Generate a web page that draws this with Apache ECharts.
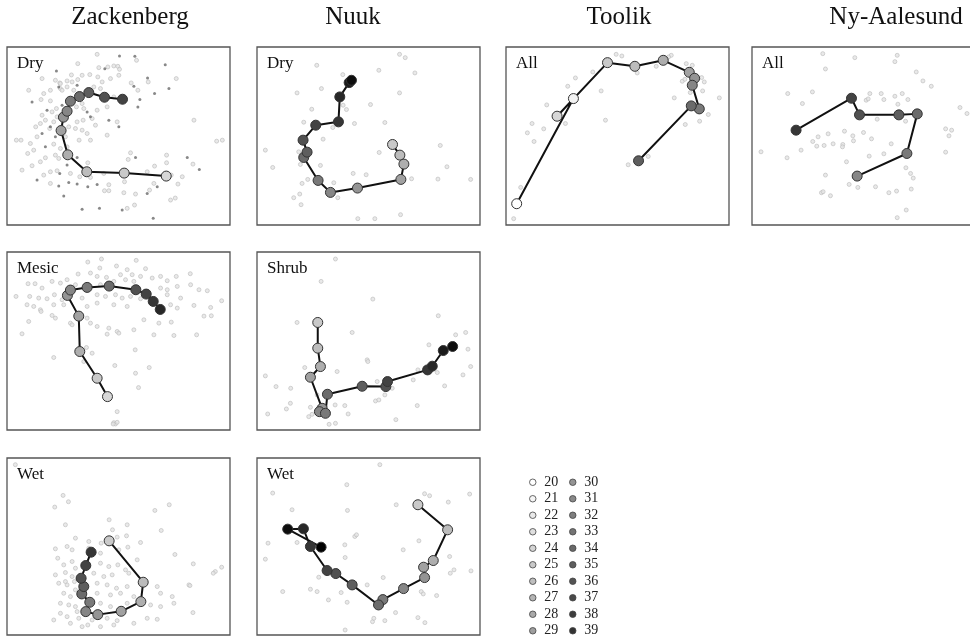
<!DOCTYPE html>
<html>
<head>
<meta charset="utf-8">
<script src="https://cdn.jsdelivr.net/npm/echarts@6/dist/echarts.min.js"></script>
<style>
  html, body { margin: 0; background: #fff; }
  #chart { width: 970px; height: 641px; }
</style>
</head>
<body>
<div id="chart"></div>
<script>
// ordination scores (arbitrary units), trajectory points are [x, y, week]
const sites = ['Zackenberg', 'Nuuk', 'Toolik', 'Ny-Aalesund'];
const weeks = [20, 21, 22, 23, 24, 25, 26, 27, 28, 29, 30, 31, 32, 33, 34, 35, 36, 37, 38, 39];

const zackDryPath = [[497,408,23],[371,399,24],[259,395,25],[202,344,26],[182,271,27],[189,231,28],[200,213,29],[210,183,30],[237,169,31],[265,157,32],[312,171,33],[366,177,34]];
const zackDryBg = [[290,42],[408,60],[232,70],[295,82],[322,80],[340,77],[352,78],[357,87],[213,104],[245,105],[268,103],[292,110],[355,105],[165,120],[178,128],[200,122],[215,125],[232,118],[305,125],[392,128],[443,125],[527,115],[85,150],[130,160],[150,150],[180,145],[185,150],[200,140],[220,150],[280,140],[300,145],[412,150],[122,178],[150,182],[168,205],[228,200],[250,205],[290,210],[245,190],[125,225],[155,215],[135,240],[106,260],[120,250],[160,245],[230,245],[248,240],[275,235],[350,245],[225,265],[245,270],[260,280],[320,285],[580,240],[48,300],[62,300],[90,310],[110,290],[160,312],[180,325],[236,300],[270,300],[648,303],[665,300],[82,340],[135,353],[165,345],[175,355],[262,368],[390,338],[383,358],[498,345],[577,372],[65,390],[95,377],[130,405],[170,392],[210,400],[238,410],[270,412],[310,400],[440,395],[462,378],[498,368],[545,410],[512,405],[150,430],[325,434],[372,425],[460,430],[532,432],[312,452],[325,452],[370,458],[405,462],[447,450],[380,505],[402,495],[510,480],[524,474],[148,265],[125,115],[180,130],[330,115],[240,160],[215,175],[170,230],[195,290],[205,260],[285,255],[320,200],[340,170],[100,330],[120,365],[200,320],[150,395]];
const zackDryBgDark = [[357,47],[403,48],[494,73],[168,92],[313,85],[441,113],[400,138],[462,160],[505,145],[95,185],[418,178],[412,200],[325,240],[355,260],[150,260],[135,320],[230,352],[200,375],[596,388],[560,352],[178,400],[230,432],[175,438],[190,468],[290,433],[245,508],[297,505],[365,510],[458,535],[440,460],[470,440],[205,427],[405,352],[175,140],[230,135],[260,215],[140,210],[125,280],[165,290],[270,230],[185,195],[110,420],[262,440]];

const nuukDryPath = [[426,313,24],[448,345,25],[460,372,26],[451,418,27],[321,444,28],[240,457,29],[203,421,30],[160,352,31],[170,336,32],[158,300,33],[196,255,34],[264,245,35],[268,170,36],[296,127,37],[303,120,38]];
const nuukDryBg = [[447,42],[464,52],[199,75],[385,90],[493,98],[277,103],[140,158],[213,145],[447,158],[360,193],[184,207],[288,208],[278,195],[160,246],[247,262],[312,250],[403,247],[218,297],[45,330],[145,335],[386,337],[569,316],[67,382],[150,373],[210,376],[589,380],[308,400],[347,404],[483,416],[562,417],[660,418],[172,418],[155,430],[250,428],[148,462],[130,473],[262,473],[152,494],[450,524],[322,536],[373,536]];

const toolikPath = [[52,491,20],[222,175,21],[173,228,23],[324,67,24],[406,78,25],[491,60,26],[569,96,27],[585,114,28],[578,135,29],[599,206,30],[575,197,31],[417,362,32]];
const toolikBg = [[350,42],[367,47],[515,45],[507,50],[560,70],[578,75],[280,95],[228,113],[205,138],[305,152],[413,98],[470,78],[548,123],[556,117],[606,112],[614,125],[609,152],[572,157],[524,173],[659,173],[626,223],[600,243],[557,253],[142,194],[98,250],[133,266],[198,250],[318,240],[84,278],[104,304],[446,349],[386,374],[64,442],[43,536]];

const nyPath = [[335,408,29],[484,340,30],[515,221,31],[460,224,32],[342,224,33],[318,174,34],[152,270,35]];
const nyBg = [[232,40],[328,52],[455,45],[448,64],[240,86],[512,95],[532,122],[557,138],[127,160],[201,155],[171,190],[373,160],[407,160],[362,180],[368,176],[415,178],[448,168],[470,160],[487,178],[457,192],[643,202],[664,220],[395,237],[480,243],[600,266],[618,270],[610,287],[600,336],[47,335],[125,353],[167,330],[218,290],[248,281],[202,304],[214,318],[236,316],[263,311],[292,313],[291,320],[297,273],[322,287],[324,302],[354,277],[378,296],[437,311],[415,341],[371,348],[303,365],[240,405],[311,433],[337,442],[390,440],[430,458],[453,453],[497,447],[481,383],[495,400],[503,414],[228,458],[233,455],[255,467],[482,510],[455,533]];

const zackMesicPath = [[321,455,23],[290,400,24],[238,320,26],[235,214,27],[201,152,28],[210,136,29],[260,128,30],[326,124,31],[406,135,33],[437,148,34],[458,170,35],[479,194,36]];
const zackMesicBg = [[303,43],[262,52],[407,47],[348,64],[298,70],[380,75],[435,72],[527,95],[569,87],[233,88],[270,85],[290,95],[318,98],[360,90],[395,90],[420,95],[455,100],[480,95],[500,108],[83,117],[104,117],[125,130],[155,110],[180,115],[200,105],[225,120],[300,120],[340,110],[375,105],[400,110],[480,130],[500,135],[530,125],[570,120],[595,135],[620,138],[47,155],[88,155],[115,160],[140,162],[162,150],[185,165],[245,160],[290,150],[315,155],[345,150],[365,160],[390,155],[420,162],[500,150],[540,160],[80,180],[100,185],[120,195],[160,180],[190,180],[260,185],[290,175],[340,180],[380,185],[510,180],[530,190],[580,182],[630,188],[663,168],[610,214],[632,213],[122,200],[155,212],[165,220],[210,235],[215,240],[260,220],[270,235],[290,245],[325,250],[350,260],[400,255],[430,225],[475,235],[512,232],[85,230],[65,267],[320,268],[355,265],[460,270],[520,272],[588,270],[258,308],[275,325],[404,315],[160,338],[250,350],[343,362],[405,385],[446,368],[414,428],[350,500],[340,533],[345,537],[350,532],[338,537]];

const nuukShrubPath = [[202,233,24],[202,310,25],[210,365,26],[180,397,27],[215,490,28],[207,500,29],[225,505,30],[231,448,31],[335,424,32],[406,425,33],[411,410,34],[531,375,35],[545,364,36],[578,317,37],[606,305,38]];
const nuukShrubBg = [[255,43],[212,110],[367,163],[140,233],[305,263],[563,213],[615,270],[645,263],[535,300],[652,313],[350,345],[352,350],[163,368],[260,380],[660,365],[637,390],[45,393],[77,425],[121,430],[380,410],[425,430],[403,450],[488,405],[502,375],[560,383],[582,423],[200,450],[120,475],[108,492],[180,487],[175,515],[185,508],[254,480],[283,482],[293,507],[375,468],[385,465],[500,482],[436,524],[236,538],[255,535],[52,507]];

const zackWetPath = [[326,273,24],[428,397,25],[421,455,26],[362,484,27],[292,494,28],[256,485,29],[268,457,30],[244,432,31],[250,410,32],[242,385,33],[256,347,34],[272,307,35]];
const zackWetBg = [[45,45],[188,137],[204,156],[163,172],[326,210],[463,182],[506,165],[482,242],[195,225],[380,225],[378,258],[336,240],[225,265],[265,275],[302,280],[382,292],[420,278],[350,262],[165,297],[200,290],[215,300],[265,295],[300,310],[355,300],[410,330],[523,314],[578,342],[644,365],[638,370],[663,352],[172,325],[190,345],[215,335],[225,355],[300,340],[325,350],[352,345],[375,360],[165,375],[195,368],[215,380],[280,370],[310,380],[335,375],[385,370],[175,400],[200,405],[222,395],[290,400],[320,405],[348,415],[380,410],[470,410],[565,405],[190,430],[210,440],[225,420],[290,430],[330,435],[360,430],[400,440],[480,430],[515,440],[180,460],[205,465],[225,470],[300,460],[330,470],[380,460],[450,465],[480,470],[520,460],[180,490],[200,500],[230,485],[275,510],[320,505],[350,512],[400,520],[440,505],[470,508],[160,510],[210,520],[245,530],[300,530],[340,525],[577,488],[568,407],[195,395],[235,505],[262,525]];

const nuukWetPath = [[502,165,24],[591,240,25],[548,332,26],[519,352,27],[522,383,28],[459,416,29],[397,449,30],[384,465,31],[305,405,32],[256,371,33],[230,362,34],[180,290,35],[159,237,36],[112,238,38],[212,292,39]];
const nuukWetBg = [[388,45],[289,105],[67,130],[522,132],[537,138],[657,133],[437,165],[593,157],[125,180],[291,182],[53,280],[140,278],[505,273],[313,260],[318,255],[283,285],[45,328],[284,323],[458,300],[597,320],[661,363],[610,360],[599,370],[398,383],[205,382],[350,405],[180,418],[200,425],[97,425],[272,428],[234,450],[290,457],[512,425],[518,432],[558,437],[435,488],[366,515],[370,505],[403,512],[502,503],[523,518],[284,540]];

// layout of the small multiples
const colLeft = [7, 257, 506, 752];
const colCenter = [130, 353, 619, 896];
const rowTop = [47, 252, 458];
const rowHeight = [178, 178, 177];
const rowYMin = [20, 22, 25];
const serif = '"Liberation Serif", "DejaVu Serif", serif';

const panels = [
  {label: 'Dry',   col: 0, row: 0, path: zackDryPath,   bg: zackDryBg, bgDark: zackDryBgDark},
  {label: 'Dry',   col: 1, row: 0, path: nuukDryPath,   bg: nuukDryBg},
  {label: 'All',   col: 2, row: 0, path: toolikPath,    bg: toolikBg},
  {label: 'All',   col: 3, row: 0, path: nyPath,        bg: nyBg},
  {label: 'Mesic', col: 0, row: 1, path: zackMesicPath, bg: zackMesicBg},
  {label: 'Shrub', col: 1, row: 1, path: nuukShrubPath, bg: nuukShrubBg},
  {label: 'Wet',   col: 0, row: 2, path: zackWetPath,   bg: zackWetBg},
  {label: 'Wet',   col: 1, row: 2, path: nuukWetPath,   bg: nuukWetBg}
];

function weekGray(w) {
  const v = Math.round(255 * (39 - w) / 19);
  return 'rgb(' + v + ',' + v + ',' + v + ')';
}

const grid = [], xAxis = [], yAxis = [], series = [];
const title = sites.map((s, i) => ({
  text: s, left: colCenter[i], top: 5, textAlign: 'center', padding: 0,
  textStyle: {fontFamily: serif, fontSize: 25, fontWeight: 'normal', color: '#111'}
}));

panels.forEach((p, i) => {
  // last column runs past the page edge, so no clamping of the grid box
  grid.push({
    left: colLeft[p.col], top: rowTop[p.row], width: 223, height: rowHeight[p.row],
    outerBoundsMode: 'none',
    show: true, borderColor: '#555', borderWidth: 1.3, backgroundColor: '#fff'
  });
  xAxis.push({type: 'value', gridIndex: i, min: 20, max: 688, show: false});
  yAxis.push({type: 'value', gridIndex: i, min: rowYMin[p.row], max: 555, inverse: true, show: false});
  title.push({
    text: p.label, left: colLeft[p.col] + 10, top: rowTop[p.row] + 8, padding: 0,
    textStyle: {fontFamily: serif, fontSize: 17, fontWeight: 'normal', color: '#111'}
  });
  series.push({
    type: 'scatter', xAxisIndex: i, yAxisIndex: i, data: p.bg, symbolSize: 4, silent: true,
    itemStyle: {color: '#e4e4e4', borderColor: '#bcbcbc', borderWidth: 0.8}
  });
  if (p.bgDark) {
    series.push({
      type: 'scatter', xAxisIndex: i, yAxisIndex: i, data: p.bgDark, symbolSize: 3, silent: true,
      itemStyle: {color: '#6a6a6a'}
    });
  }
  series.push({
    type: 'line', xAxisIndex: i, yAxisIndex: i, z: 5,
    symbol: 'circle', symbolSize: 10, showAllSymbol: true,
    lineStyle: {color: '#111', width: 2},
    itemStyle: {borderColor: '#333', borderWidth: 1},
    data: p.path.map(d => ({value: [d[0], d[1]], itemStyle: {color: weekGray(d[2])}}))
  });
});

// empty series only feed the week legend
weeks.forEach(w => {
  series.push({
    type: 'scatter', name: String(w), xAxisIndex: 0, yAxisIndex: 0, data: [],
    itemStyle: {color: weekGray(w), borderColor: '#444', borderWidth: 1}
  });
});

const legendBase = {
  orient: 'vertical', top: 469, height: 200, itemWidth: 13, itemHeight: 6.5, itemGap: 0,
  icon: 'circle', selectedMode: false,
  itemStyle: {borderColor: '#444', borderWidth: 1},
  textStyle: {fontFamily: serif, fontSize: 14, lineHeight: 16.5, color: '#222'}
};

const chart = echarts.init(document.getElementById('chart'));
chart.setOption({
  animation: false,
  backgroundColor: '#fff',
  title: title,
  legend: [
    Object.assign({}, legendBase, {left: 524, data: weeks.slice(0, 10).map(String)}),
    Object.assign({}, legendBase, {left: 564, data: weeks.slice(10).map(String)})
  ],
  grid: grid,
  xAxis: xAxis,
  yAxis: yAxis,
  series: series
});
</script>
</body>
</html>
